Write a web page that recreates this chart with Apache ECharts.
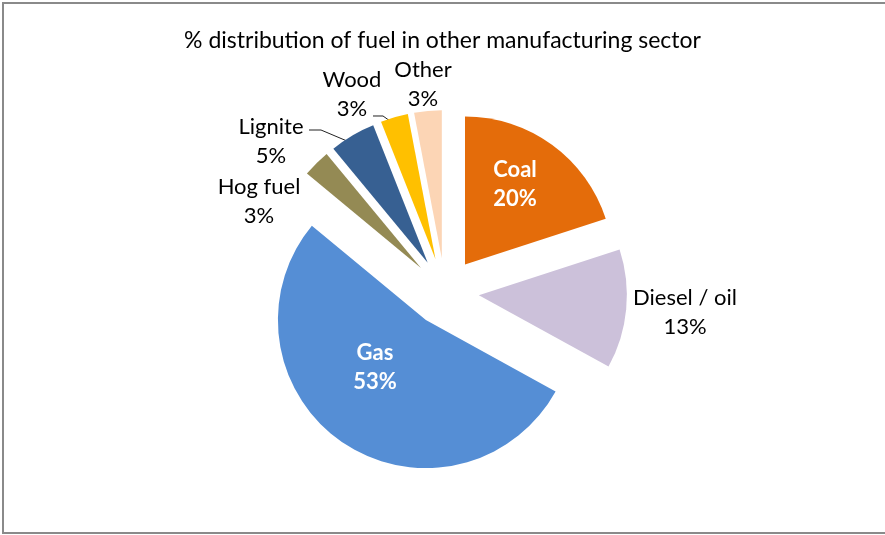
<!DOCTYPE html>
<html>
<head>
<meta charset="utf-8">
<script src="https://cdn.jsdelivr.net/npm/echarts@6/dist/echarts.min.js"></script>
<style>
html,body{margin:0;padding:0;background:#fff;overflow:hidden;}
#wrap{position:relative;width:885px;height:535px;overflow:hidden;}
#chart{position:absolute;left:0;top:0;width:885px;height:535px;}
#frame{position:absolute;left:2px;top:2px;width:883px;height:532px;border-top:2px solid #8a8a8a;border-left:2px solid #8a8a8a;border-bottom:2px solid #8a8a8a;box-sizing:border-box;pointer-events:none;}
</style>
</head>
<body>
<div id="wrap"><div id="chart"></div><div id="frame"></div></div>
<script>
const categories = ['Coal', 'Diesel / oil', 'Gas', 'Hog fuel', 'Lignite', 'Wood', 'Other'];
const values = [20, 13, 53, 3, 5, 3, 3];
const colors = ['#E46C0A', '#CCC1DA', '#558ED5', '#948A54', '#376092', '#FFC000', '#FCD5B5'];
const insideLabels = ['Coal', 'Gas'];
// label block centres (layout only)
const labelCentres = [[515, 184], [685, 312], [375, 367], [259, 201], [271, 141], [352, 94], [423, 84]];
// leader-line routes (layout only), null = no leader line
const leaderRoutes = [null, null, null, null, [[347, 141], [321, 130], [309, 130]], [[390, 121], [383, 116], [373, 116]], null];
const EXPLODE = 34;

const total = values.reduce((a, b) => a + b, 0);
const cumBefore = values.map((v, i) => values.slice(0, i).reduce((a, b) => a + b, 0));

const chart = echarts.init(document.getElementById('chart'));
const data = categories.map((c, i) => {
  const inside = insideLabels.includes(c);
  return {
    name: c,
    value: values[i],
    selected: true,
    itemStyle: { color: colors[i] },
    label: inside ? { position: 'inside', color: '#fff', fontWeight: 'bold' } : { position: 'outside', color: '#000' },
    labelLine: { show: leaderRoutes[i] !== null, length: 8, length2: 12, smooth: false, lineStyle: { color: '#222', width: 1 } }
  };
});
chart.setOption({
  animation: false,
  title: {
    text: '% distribution of fuel in other manufacturing sector',
    left: 'center', top: 24,
    textStyle: { fontFamily: 'Lato', fontSize: 23, fontWeight: 'normal', color: '#000' }
  },
  series: [{
    type: 'pie',
    center: [445, 292],
    radius: 148,
    startAngle: 90,
    clockwise: true,
    selectedMode: 'multiple',
    selectedOffset: EXPLODE,
    avoidLabelOverlap: false,
    label: {
      formatter: p => p.name + '\n' + Math.round(p.percent) + '%',
      fontFamily: 'Lato', fontSize: 22, lineHeight: 29
    },
    labelLayout: function (p) {
      const i = p.dataIndex;
      const c = labelCentres[i];
      const r = p.labelRect;
      let ax = r.x + r.width / 2;
      if (p.align === 'left') ax = r.x;
      else if (p.align === 'right') ax = r.x + r.width;
      const cy = r.y + r.height / 2;
      const th = (cumBefore[i] + values[i] / 2) / total * 2 * Math.PI;
      const ox = EXPLODE * Math.sin(th), oy = -EXPLODE * Math.cos(th);
      const out = { dx: c[0] - ax - ox, dy: c[1] - cy - oy, align: 'center', hideOverlap: false };
      if (leaderRoutes[i]) out.labelLinePoints = leaderRoutes[i].map(pt => [pt[0] - ox, pt[1] - oy]);
      return out;
    },
    emphasis: { disabled: true },
    data: data
  }]
});
</script>
</body>
</html>
